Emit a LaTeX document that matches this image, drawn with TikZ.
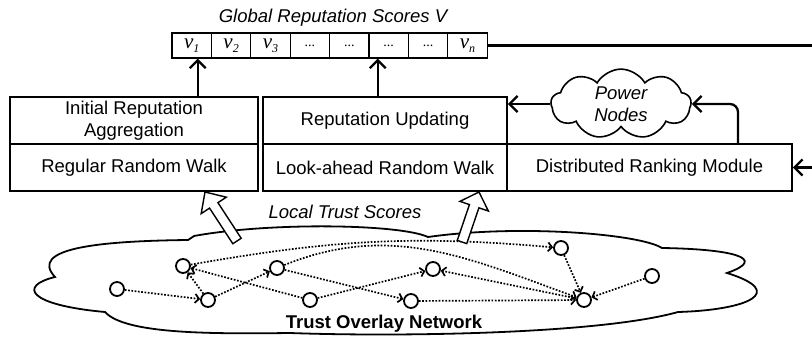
\documentclass[tikz,border=0pt]{standalone}
\usepackage{fontspec}
\setmainfont{Liberation Sans}
\newfontfamily\serifv{Liberation Serif}
\usetikzlibrary{arrows.meta,shapes.symbols,calc}
\newcommand\subv[1]{v{\fontsize{12pt}{12pt}\selectfont\raisebox{-4pt}{#1}}}
\newcommand\dotcell{{\fontsize{14pt}{14pt}\selectfont\upshape...}}
\begin{document}
\begin{tikzpicture}[x=1pt,y=-1pt,
  txt/.style={font=\fontsize{18.5pt}{22pt}\selectfont},
  itxt/.style={font=\fontsize{18.5pt}{22pt}\selectfont\itshape},
  box/.style={draw,line width=1.8pt,minimum height=47pt,inner sep=0pt,align=center,txt},
  cell/.style={draw,line width=1.1pt,minimum width=39.4pt,minimum height=25pt,inner sep=0pt,font=\serifv\fontsize{21pt}{21pt}\selectfont\itshape},
  mainarr/.style={line width=2.3pt,-{Straight Barb[length=8pt,width=16pt]}},
  plainline/.style={line width=2.3pt},
  gnode/.style={circle,draw,line width=1.8pt,minimum size=14pt,inner sep=0pt,fill=white},
  gedge/.style={line width=1.7pt,dash pattern=on 1.7pt off 1.6pt,-{Straight Barb[length=4pt,width=9pt]}},
  harrow/.style={line width=1.4pt,fill=white,line join=miter},
  cloudline/.style={line width=1.8pt}
]
\useasboundingbox (0,0) rectangle (812,340);

% title and score vector
\node[itxt,anchor=base] (title) at (333,22) {Global Reputation Scores V};
\node[cell] (c1) at (191.7,45.5) {\subv{1}};
\node[cell] (c2) at (231.1,45.5) {\subv{2}};
\node[cell] (c3) at (270.5,45.5) {\subv{3}};
\node[cell] (c4) at (309.9,45.5) {\dotcell};
\node[cell] (c5) at (349.3,45.5) {\dotcell};
\node[cell] (c6) at (388.7,45.5) {\dotcell};
\node[cell] (c7) at (428.1,45.5) {\dotcell};
\node[cell] (c8) at (467.5,45.5) {\subv{n}};

% module boxes
\node[box,minimum width=248pt] (ira) at (134,120.5) {Initial Reputation\\Aggregation};
\node[box,minimum width=248pt] (rrw) at (134,167.5) {Regular Random Walk};
\node[box,minimum width=244pt] (ru) at (385,120.5) {Reputation Updating};
\node[box,minimum width=244pt] (law) at (385,167.5) {Look-ahead Random Walk};
\node[box,minimum width=285pt] (drm) at (649.5,167.5) {Distributed Ranking Module};

% power nodes cloud
\node[cloud,draw,line width=1.6pt,cloud puffs=9,cloud puff arc=120,aspect=2.4,minimum width=140pt,minimum height=58pt,inner sep=0pt,align=center,itxt] (power) at (621,104) {Power\\Nodes};

% main connectors
\coordinate (a1) at ([xshift=6pt]c1.south);
\draw[mainarr] (a1 |- ira.north) -- (a1);
\coordinate (a2) at ([xshift=-11pt]c6.south);
\draw[mainarr] (a2 |- ru.north) -- (a2);
\coordinate (rout) at (812,45.5);
\draw[plainline] (c8.east) -- (rout);
\coordinate (rin) at (812,167.5);
\draw[mainarr] (rin) -- (drm.east);
\draw[mainarr] (power.west) -- (power.west -| ru.east);
\coordinate (dt) at ([xshift=88.5pt]drm.north);
\draw[mainarr,rounded corners=8pt] (dt) |- (power.east);

% trust overlay cloud
\draw[cloudline] (188,240)
  .. controls (100,241) and (28,248) .. (55,277)
  .. controls (18,286) and (28,305) .. (105,312)
  .. controls (125,334) and (210,334) .. (290,333)
  .. controls (400,337) and (600,334) .. (678,312)
  .. controls (748,310) and (788,292) .. (727,273)
  .. controls (770,258) and (730,249) .. (662,248)
  .. controls (640,234) and (520,224) .. (428,237)
  .. controls (400,224) and (270,222) .. (194,236)
  -- cycle;

% graph nodes
\node[gnode] (A) at (117,289) {};
\node[gnode] (B) at (183,266) {};
\node[gnode] (C) at (208,300) {};
\node[gnode] (D) at (277,268) {};
\node[gnode] (E) at (310,300) {};
\node[gnode] (F) at (433,269) {};
\node[gnode] (G) at (411,301) {};
\node[gnode] (H) at (561,248) {};
\node[gnode] (I) at (584,300) {};
\node[gnode] (J) at (652,276) {};

% graph edges
\draw[gedge] (A) -- (C);
\draw[gedge] (C) -- (B);
\draw[gedge] (C) -- (D);
\draw[gedge] (E) -- (B);
\draw[gedge] (D) -- (G);
\draw[gedge] (E) -- (F);
\draw[gedge] (I) -- (F);
\draw[gedge] (G) -- (I);
\draw[gedge] (H) -- (I);
\draw[gedge] (J) -- (I);
\draw[gedge] (B) to[out=10,in=175] (H);
\draw[gedge] (D) to[out=22,in=160] (I);

% hollow arrows (local trust scores)
\coordinate (t1) at (237,241);
\coordinate (p1) at (205,192);
\coordinate (h1) at ($(p1)!16pt!(t1)$);
\draw[harrow] ($(t1)!5pt!90:(p1)$) -- ($(h1)!5pt!90:(p1)$) -- ($(h1)!15pt!90:(p1)$) -- (p1)
  -- ($(h1)!15pt!-90:(p1)$) -- ($(h1)!5pt!-90:(p1)$) -- ($(t1)!5pt!-90:(p1)$) -- cycle;
\coordinate (t2) at (462,242);
\coordinate (p2) at (479,192);
\coordinate (h2) at ($(p2)!15pt!(t2)$);
\draw[harrow] ($(t2)!5pt!90:(p2)$) -- ($(h2)!5pt!90:(p2)$) -- ($(h2)!15pt!90:(p2)$) -- (p2)
  -- ($(h2)!15pt!-90:(p2)$) -- ($(h2)!5pt!-90:(p2)$) -- ($(t2)!5pt!-90:(p2)$) -- cycle;

% labels
\node[itxt,anchor=base] (lts) at (345,218) {Local Trust Scores};
\node[txt,font=\fontsize{18.5pt}{22pt}\selectfont\bfseries,anchor=base] (ton) at (384,328) {Trust Overlay Network};
\end{tikzpicture}
\end{document}
